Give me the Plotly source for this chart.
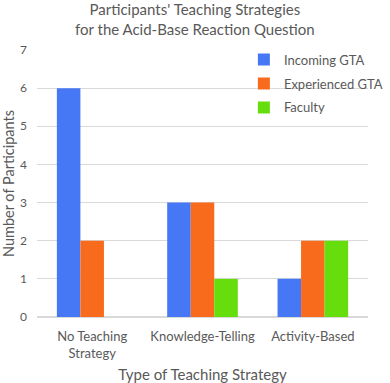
import plotly.graph_objects as go

categories = ['No Teaching<br>Strategy', 'Knowledge-Telling', 'Activity-Based']
incoming_gta = [6, 3, 1]
experienced_gta = [2, 3, 2]
faculty = [0, 1, 2]

series = [
    ('Incoming GTA', incoming_gta, '#4678F5'),
    ('Experienced GTA', experienced_gta, '#F86B1C'),
    ('Faculty', faculty, '#66DD0C'),
]

font = 'Lato, "Open Sans", sans-serif'
grey = '#595959'

fig = go.Figure()
for name, vals, color in series:
    fig.add_trace(go.Bar(
        x=categories, y=vals, name=name,
        marker=dict(color=color, line=dict(width=0)),
        legendgroup=name,
    ))

# chart title as an annotation so both lines stay inside the page
fig.add_annotation(
    text="Participants' Teaching Strategies<br>for the Acid-Base Reaction Question",
    xref='paper', yref='paper', x=0.476, y=1, xanchor='center', yanchor='bottom',
    yshift=11, showarrow=False, borderpad=0, font=dict(size=15, color=grey),
)

fig.update_layout(
    width=390, height=383,
    margin=dict(l=37, r=2, t=50, b=66),
    paper_bgcolor='white', plot_bgcolor='white',
    barmode='group', bargap=0.36, bargroupgap=0,
    font=dict(family=font, color=grey, size=13),
    legend=dict(
        x=0.625, xanchor='left', y=1.02, yanchor='top',
        font=dict(size=13, color=grey),
        tracegroupgap=4, bgcolor='rgba(0,0,0,0)',
    ),
    xaxis=dict(
        showgrid=False, showline=False, ticks='', automargin=False,
        ticklabelstandoff=10,
        tickfont=dict(size=13, color=grey),
        title=dict(text='Type of Teaching Strategy', font=dict(size=15, color=grey), standoff=9),
    ),
    yaxis=dict(
        range=[0, 7], dtick=1, showgrid=True, gridcolor='#D9D9D9', gridwidth=1,
        zeroline=True, zerolinecolor='#D9D9D9', showline=False, ticks='',
        automargin=False, ticklabelstandoff=9,
        tickfont=dict(size=12, color=grey),
        title=dict(text='Number of Participants', font=dict(size=14.5, color=grey), standoff=1),
    ),
)

fig.write_html('out.html', config={'displayModeBar': False},
               post_script="document.body.style.margin='0';")
